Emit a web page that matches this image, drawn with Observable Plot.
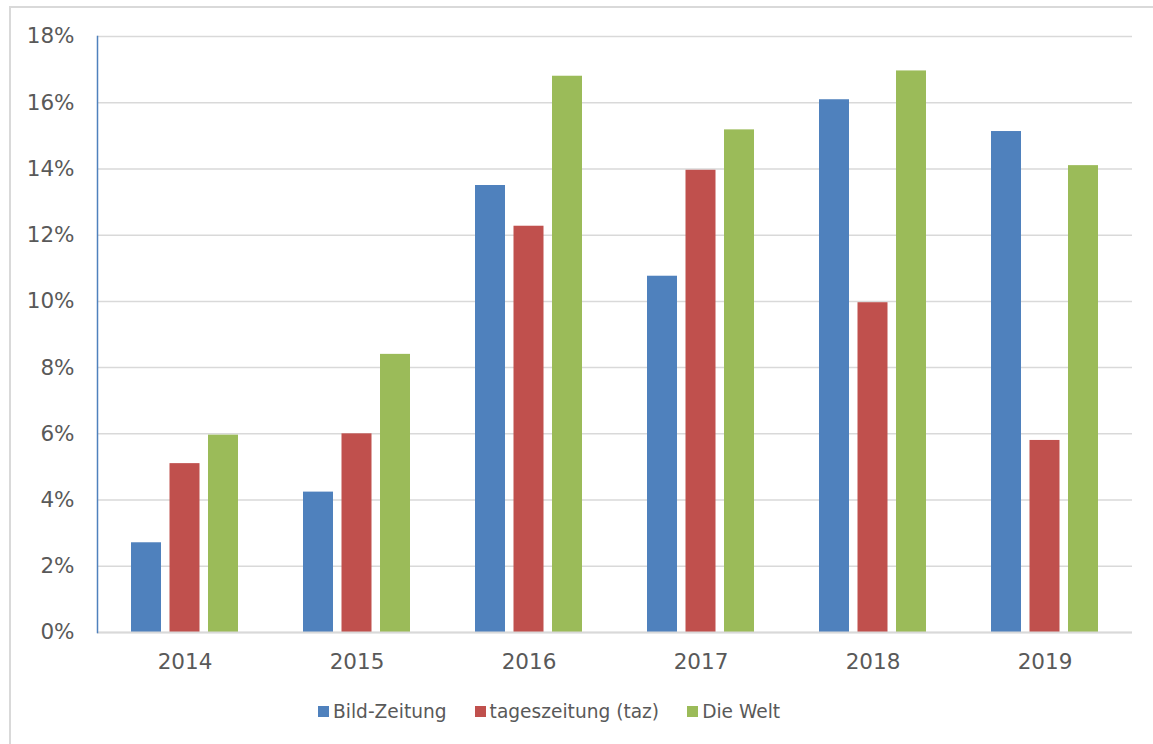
<!DOCTYPE html>
<html>
<head>
<meta charset="utf-8">
<script src="https://cdn.jsdelivr.net/npm/d3@7"></script>
<script src="https://cdn.jsdelivr.net/npm/@observablehq/plot@0.6"></script>
<style>
  html, body { margin: 0; padding: 0; background: #fff; }
  body { width: 1153px; height: 744px; position: relative; overflow: hidden; font-family: "DejaVu Sans", Verdana, sans-serif; }
  #frame { position: absolute; left: 9px; top: 6px; width: 1200px; height: 800px; border-left: 2px solid #d9d9d9; border-top: 2px solid #d9d9d9; box-sizing: border-box; }
  #chart { position: absolute; left: 0; top: 0; }
  #legend { position: absolute; left: 318px; top: 701px; display: flex; font-size: 18.6px; color: #595959; }
  .item { display: flex; align-items: center; }
  .sw { width: 11px; height: 11px; margin-right: 4px; }
</style>
</head>
<body>
<div id="frame"></div>
<div id="chart"></div>
<div id="legend"></div>
<script>
const years = ["2014", "2015", "2016", "2017", "2018", "2019"];
const bild = [2.71, 4.24, 13.5, 10.76, 16.09, 15.13];
const taz = [5.1, 6.0, 12.27, 13.96, 9.96, 5.8];
const welt = [5.96, 8.4, 16.8, 15.18, 16.96, 14.1];
const seriesNames = ["Bild-Zeitung", "tageszeitung (taz)", "Die Welt"];
const seriesValues = [bild, taz, welt];
const colors = ["#4f81bd", "#c0504d", "#9bbb59"];
const yTicks = [0, 2, 4, 6, 8, 10, 12, 14, 16, 18];

const groupWidth = 107, barWidth = 30, barStep = 38.5;

const barMarks = seriesValues.map((vals, i) =>
  Plot.barY(years, {
    x: d => d,
    y: (d, j) => vals[j],
    fill: colors[i],
    insetLeft: i * barStep,
    insetRight: groupWidth - barWidth - i * barStep
  })
);

const chart = Plot.plot({
  width: 1153,
  height: 680,
  marginLeft: 97,
  marginRight: 21,
  marginTop: 36,
  marginBottom: 48,
  style: { fontFamily: "DejaVu Sans, Verdana, sans-serif", fontSize: "21.5px", color: "#595959", background: "transparent" },
  x: { domain: years, paddingInner: 0.38, paddingOuter: 0.19, label: null },
  y: { domain: [0, 18], label: null },
  marks: [
    Plot.gridY(yTicks, { stroke: "#d9d9d9", strokeOpacity: 1, strokeWidth: 1.5 }),
    ...barMarks,
    Plot.ruleY([0], { stroke: "#d9d9d9", strokeWidth: 2 }),
    Plot.frame({ anchor: "left", stroke: "#4f81bd", strokeWidth: 1.5 }),
    Plot.axisY(yTicks, { tickSize: 0, tickPadding: 23, tickFormat: d => d + "%", fill: "#595959", label: null }),
    Plot.axisX({ tickSize: 0, tickPadding: 21, fill: "#595959", label: null })
  ]
});
document.getElementById("chart").appendChild(chart);

const legend = document.getElementById("legend");
seriesNames.forEach((name, i) => {
  const item = document.createElement("div");
  item.className = "item";
  item.style.marginRight = i < seriesNames.length - 1 ? "28px" : "0";
  const sw = document.createElement("div");
  sw.className = "sw";
  sw.style.background = colors[i];
  const t = document.createElement("span");
  t.textContent = name;
  item.appendChild(sw);
  item.appendChild(t);
  legend.appendChild(item);
});
</script>
</body>
</html>
